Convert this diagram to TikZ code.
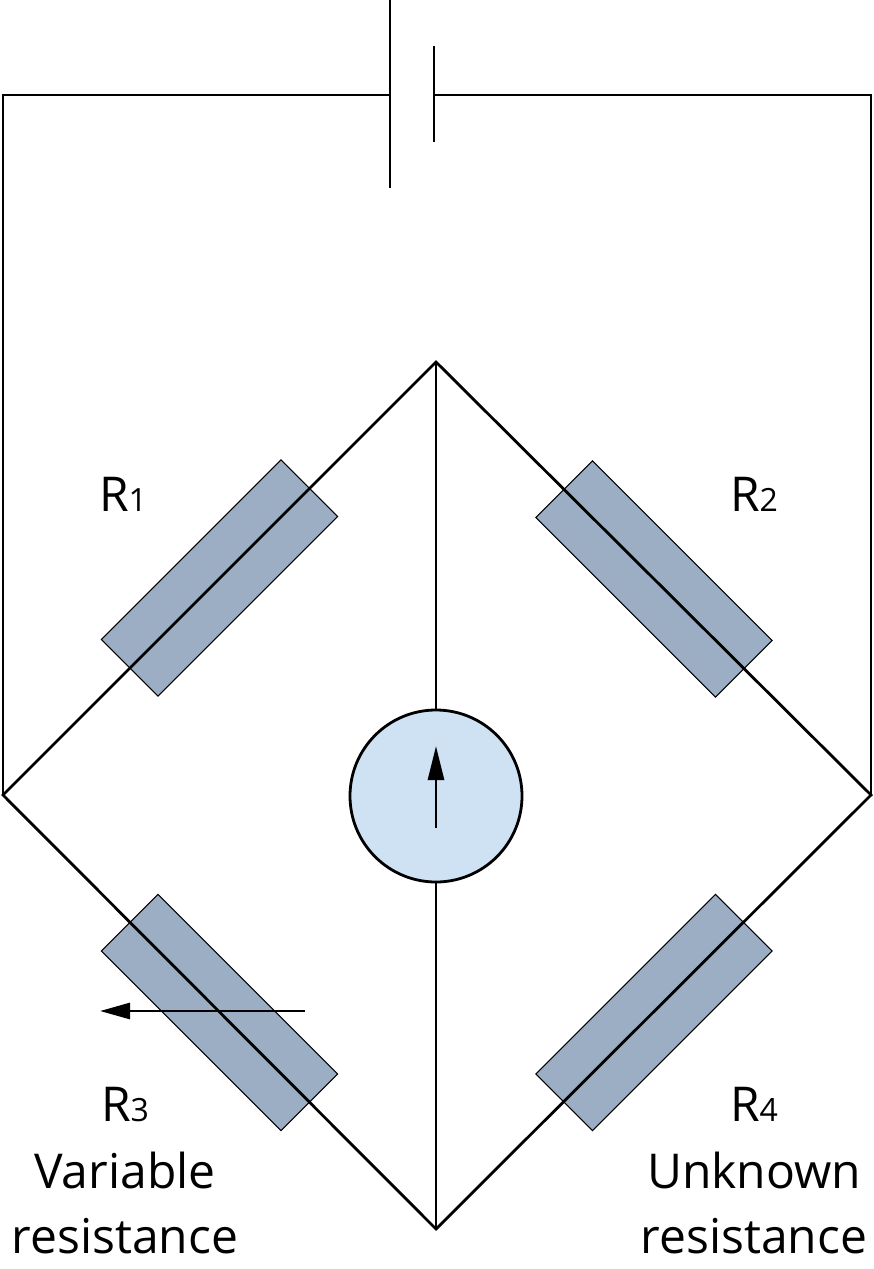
\documentclass[tikz,border=0pt]{standalone}
\usetikzlibrary{arrows.meta}
\usepackage{fontspec}
\setmainfont{Open Sans}
\begin{document}
\begin{tikzpicture}[x=1pt,y=-1pt,
  wire/.style={line width=2.8pt,black},
  thin/.style={line width=1.3pt,black},
  res/.style={draw=black,line width=1pt,fill={rgb,255:red,155;green,174;blue,196},minimum width=254pt,minimum height=80pt,inner sep=0pt},
  lbl/.style={font=\fontsize{48}{54}\selectfont,inner sep=0pt,anchor=base}]
\useasboundingbox (0,0) rectangle (874,1269);
\coordinate (T) at (436,362);
\coordinate (L) at (3,795);
\coordinate (Rr) at (871,795);
\coordinate (B) at (436,1229);
\coordinate (pl1) at (390,0);
\coordinate (pl2) at (390,188);
\coordinate (ps1) at (434,46);
\coordinate (ps2) at (434,142);
\coordinate (wl) at (390,95);
\coordinate (wr) at (434,95);
\node[res,rotate=45] (R1) at (219.5,578) {};
\node[res,rotate=-45] (R2) at (654,579) {};
\node[res,rotate=-45] (R3) at (219.5,1012.5) {};
\node[res,rotate=45] (R4) at (654,1012.5) {};
\draw[wire] (L) -- (T) -- (Rr) -- (B) -- cycle;
\draw[wire] (L) |- (wl);
\draw[wire] (Rr) |- (wr);
\draw[wire] (pl1) -- (pl2);
\draw[wire] (ps1) -- (ps2);
\draw[thin] (T) -- (B);
\node[circle,draw=black,line width=2.8pt,fill={rgb,255:red,207;green,226;blue,243},minimum size=172pt] (G) at (436,796) {};
\coordinate (ga) at (436,828);
\coordinate (gb) at (436,746);
\draw[wire,-{Stealth[length=34pt,width=16pt,inset=0pt]}] (ga) -- (gb);
\coordinate (va) at (305,1011);
\coordinate (vb) at (100,1011);
\draw[wire,-{Stealth[length=30pt,width=16pt,inset=0pt]}] (va) -- (vb);
\node[lbl] (l1) at (123,511) {R\fontsize{32}{32}\selectfont 1};
\node[lbl] (l2) at (754,511) {R\fontsize{32}{32}\selectfont 2};
\node[lbl] (l3) at (125,1121) {R\fontsize{32}{32}\selectfont 3};
\node[lbl] (l3b) at (125,1188) {Variable};
\node[lbl] (l3c) at (125,1253) {resistance};
\node[lbl] (l4) at (754,1121) {R\fontsize{32}{32}\selectfont 4};
\node[lbl] (l4b) at (754,1188) {Unknown};
\node[lbl] (l4c) at (754,1253) {resistance};
\end{tikzpicture}
\end{document}
